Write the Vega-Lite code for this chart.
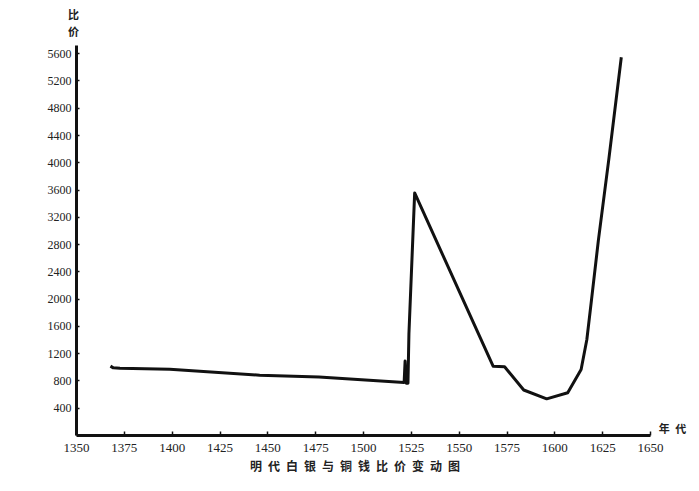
{
  "$schema": "https://vega.github.io/schema/vega-lite/v6.json",
  "width": 574,
  "height": 390,
  "autosize": {"type": "none"},
  "padding": {"left": 76, "top": 45, "right": 49, "bottom": 56},
  "background": "white",
  "config": {"view": {"stroke": null}},
  "title": {
    "text": "明\u2002代\u2002白\u2002银\u2002与\u2002铜\u2002钱\u2002比\u2002价\u2002变\u2002动\u2002图",
    "orient": "bottom",
    "anchor": "middle",
    "font": "Noto Sans CJK SC",
    "fontSize": 12,
    "fontWeight": "bold",
    "color": "#222",
    "offset": 8,
    "dx": -8
  },
  "data": {
    "values": [
      {"year": 1368, "ratio": 1010},
      {"year": 1369.5, "ratio": 985},
      {"year": 1373, "ratio": 980},
      {"year": 1399, "ratio": 966},
      {"year": 1446, "ratio": 878},
      {"year": 1477, "ratio": 849},
      {"year": 1521.5, "ratio": 770},
      {"year": 1522, "ratio": 1085},
      {"year": 1522.6, "ratio": 760},
      {"year": 1523.5, "ratio": 760},
      {"year": 1524, "ratio": 1480},
      {"year": 1527, "ratio": 3550},
      {"year": 1568, "ratio": 1010},
      {"year": 1574, "ratio": 1000},
      {"year": 1584, "ratio": 660},
      {"year": 1596, "ratio": 530},
      {"year": 1607, "ratio": 620},
      {"year": 1614, "ratio": 960},
      {"year": 1617, "ratio": 1400},
      {"year": 1619.5, "ratio": 2000},
      {"year": 1623, "ratio": 2850},
      {"year": 1628.5, "ratio": 4050},
      {"year": 1635, "ratio": 5540}
    ]
  },
  "mark": {"type": "line", "color": "#111", "strokeWidth": 3, "strokeJoin": "round"},
  "encoding": {
    "x": {
      "field": "year",
      "type": "quantitative",
      "scale": {"domain": [1350, 1650], "nice": false, "zero": false},
      "axis": {
        "values": [1350, 1375, 1400, 1425, 1450, 1475, 1500, 1525, 1550, 1575, 1600, 1625, 1650],
        "format": "d",
        "grid": false,
        "labelFlush": false,
        "labelOverlap": false,
        "domainColor": "#111",
        "domainWidth": 3,
        "tickColor": "#111",
        "tickSize": -4,
        "tickWidth": 1.5,
        "labelFont": "Liberation Serif",
        "labelFontSize": 13,
        "labelColor": "#222",
        "labelPadding": 10,
        "title": "年\u2002代",
        "titleFont": "Noto Sans CJK SC",
        "titleFontSize": 11,
        "titleFontWeight": "bold",
        "titleColor": "#222",
        "titleX": 596,
        "titleY": -6,
        "titleAlign": "center",
        "titleBaseline": "middle"
      }
    },
    "y": {
      "field": "ratio",
      "type": "quantitative",
      "scale": {"domain": [0, 5720], "nice": false},
      "axis": {
        "values": [400, 800, 1200, 1600, 2000, 2400, 2800, 3200, 3600, 4000, 4400, 4800, 5200, 5600],
        "format": "d",
        "grid": false,
        "labelFlush": false,
        "domainColor": "#111",
        "domainWidth": 3,
        "tickColor": "#111",
        "tickSize": -3,
        "tickWidth": 1.5,
        "labelFont": "Liberation Serif",
        "labelFontSize": 12,
        "labelColor": "#222",
        "labelPadding": 8,
        "title": ["比", "价"],
        "titleFont": "Noto Sans CJK SC",
        "titleFontSize": 11,
        "titleFontWeight": "bold",
        "titleColor": "#222",
        "titleAngle": 0,
        "titleX": -3,
        "titleY": -36,
        "titleAlign": "center",
        "titleBaseline": "top",
        "titleLineHeight": 17
      }
    }
  }
}
